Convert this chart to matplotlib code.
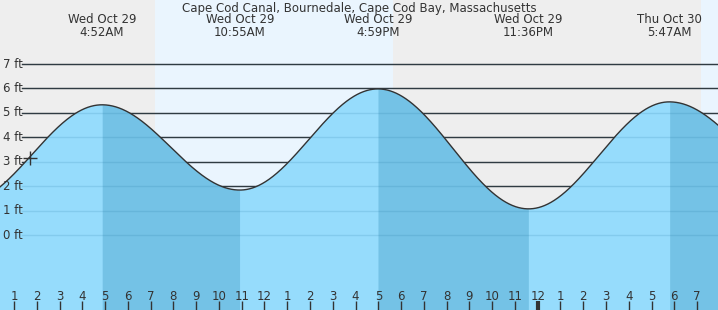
import numpy as np
import matplotlib.pyplot as plt

# tide extremes (hours from Wed 00:00, feet); first/last are outside the view
ext_hours = [-1.25, 4.867, 10.917, 16.983, 23.600, 29.783, 35.95]
ext_levels = [1.30, 5.33, 1.84, 5.98, 1.07, 5.45, 1.90]
ext_labels = ["", "Wed Oct 29\n4:52AM", "Wed Oct 29\n10:55AM", "Wed Oct 29\n4:59PM",
              "Wed Oct 29\n11:36PM", "Thu Oct 30\n5:47AM", ""]

# daylight (sunrise / sunset), hours
day_spans = [(7.19, 17.66), (31.17, 33.0)]

now_hour, now_level = 1.70, 3.15

hour_ticks = list(range(1, 32))
hour_labels = [str((h - 1) % 12 + 1) for h in hour_ticks]
ft_levels = [0, 1, 2, 3, 4, 5, 6, 7]

title = "Cape Cod Canal, Bournedale, Cape Cod Bay, Massachusetts"

c_night = "#eeeeee"
c_day = "#eaf5fe"
c_rise = "#96dcfc"
c_fall = "#74c2e6"
c_txt = "#333333"

x0, x1 = 0.385, 0.385 + 718 / 22.77
y0, y1 = -3.07, 9.62


def tide(t):
    out = np.zeros_like(t)
    for i in range(len(ext_hours) - 1):
        a, b = ext_hours[i], ext_hours[i + 1]
        m = (t >= a) & (t <= b)
        ha, hb = ext_levels[i], ext_levels[i + 1]
        ph = np.pi * (t[m] - a) / (b - a)
        out[m] = (ha + hb) / 2 + (ha - hb) / 2 * np.cos(ph)
    return out


fig = plt.figure(figsize=(7.18, 3.10), dpi=100)
ax = fig.add_axes([0, 0, 1, 1])
ax.set_xlim(x0, x1)
ax.set_ylim(y0, y1)
ax.axis("off")
fig.patch.set_facecolor(c_night)
ax.set_facecolor(c_night)

for a, b in day_spans:
    ax.axvspan(a, b, color=c_day, lw=0, zorder=0)

# grid lines
gx = 22 / 718
for lv in ft_levels:
    ax.axhline(lv, xmin=gx, xmax=1, color=c_txt, lw=1, zorder=1)
    ax.text(3 / 718, lv, f"{lv} ft", transform=ax.get_yaxis_transform(),
            ha="left", va="center", fontsize=8.5, color=c_txt, zorder=5)

t = np.linspace(x0 - 0.1, x1 + 0.1, 2000)
h = tide(t)
ax.fill_between(t, h, y0, color=c_rise, lw=0, zorder=2)
for i in range(len(ext_hours) - 1):
    if ext_levels[i] > ext_levels[i + 1]:
        m = (t >= ext_hours[i]) & (t <= ext_hours[i + 1])
        ax.fill_between(t[m], h[m], y0, color=c_fall, lw=0, zorder=2)
for lv in ft_levels:
    ax.axhline(lv, xmin=gx, xmax=1, color="#1a6e9a", alpha=0.15, lw=1, zorder=3)
ax.plot(t, h, color=c_txt, lw=1.0, zorder=4)

ax.plot(now_hour, now_level, marker="+", ms=10, mew=1, color=c_txt, zorder=6)

# labels of extremes
for hr, lab in zip(ext_hours, ext_labels):
    if lab:
        ax.text(hr, 1 - 13 / 310, lab, transform=ax.get_xaxis_transform(),
                ha="center", va="top", fontsize=8.5, color=c_txt,
                linespacing=1.05, zorder=6)
ax.text(0.5, 1 - 2 / 310, title, transform=ax.transAxes, ha="center", va="top",
        fontsize=8.5, color=c_txt, zorder=6)

# hour ticks
xt = ax.get_xaxis_transform()
for hr, lab in zip(hour_ticks, hour_labels):
    lw = 3 if hr == 24 else 1
    ax.plot([hr, hr], [0, 9 / 310], transform=xt, color=c_txt, lw=lw,
            solid_capstyle="butt", zorder=6)
    ax.text(hr, 14 / 310, lab, transform=xt, ha="center", va="center",
            fontsize=8.5, color=c_txt, zorder=6)

fig.savefig("out.png", dpi=100, facecolor=c_night)
